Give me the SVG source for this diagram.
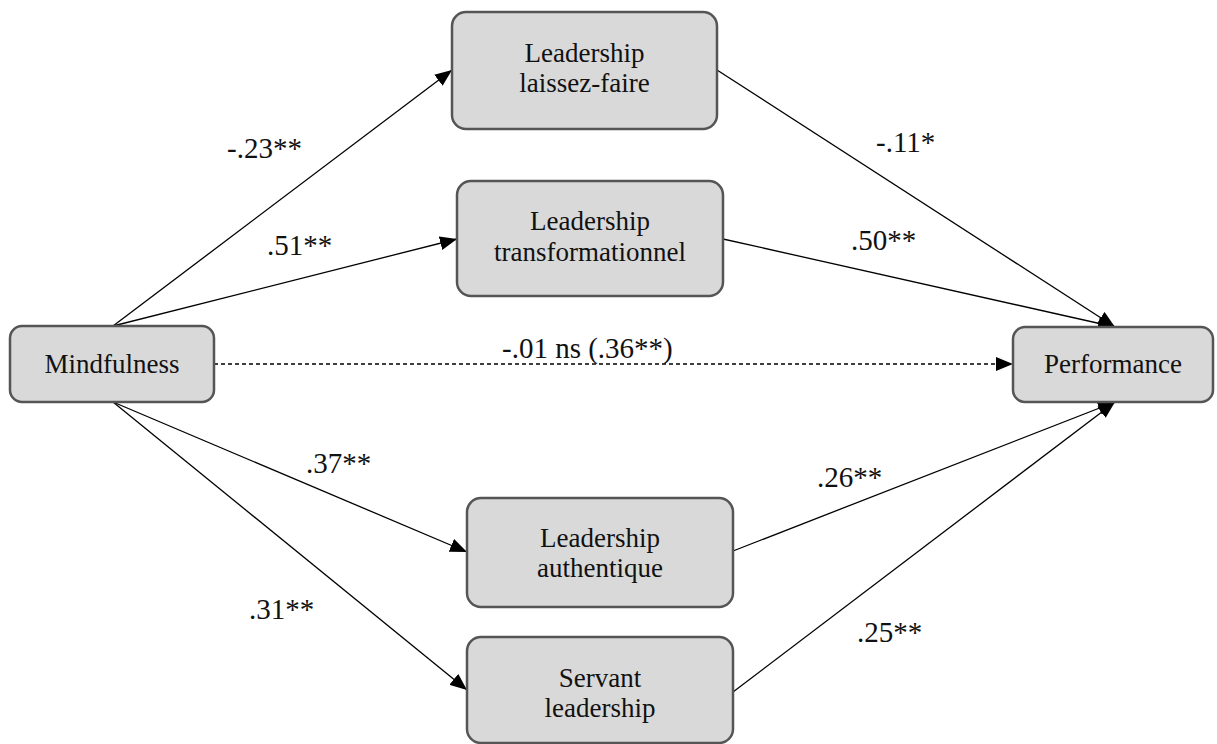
<svg xmlns="http://www.w3.org/2000/svg" width="1217" height="744" viewBox="0 0 1217 744">
<style>
.box{fill:#d9d9d9;stroke:#555;stroke-width:2.5}
.t{font-family:"Liberation Serif","Times New Roman",Times,serif;font-size:27px;fill:#111;text-anchor:middle}
.l{font-family:"Liberation Serif","Times New Roman",Times,serif;font-size:29px;fill:#111}
.c{stroke:#000;stroke-width:1.3;fill:none}
.d{stroke:#000;stroke-width:1.3;fill:none;stroke-dasharray:4 3}
</style>
<defs>
<marker id="ah" markerUnits="userSpaceOnUse" markerWidth="18" markerHeight="14" refX="17" refY="7" orient="auto">
<path d="M0,0 L17,7 L0,14 Z" fill="#000"/>
</marker>
</defs>
<rect width="1217" height="744" fill="#fff"/>
<g id="connectors">
<line class="c" x1="113" y1="326" x2="452" y2="70" marker-end="url(#ah)"/>
<line class="c" x1="113" y1="326" x2="457" y2="239" marker-end="url(#ah)"/>
<line class="c" x1="113" y1="402" x2="467" y2="552" marker-end="url(#ah)"/>
<line class="c" x1="113" y1="402" x2="467" y2="690" marker-end="url(#ah)"/>
<line class="d" x1="214" y1="364" x2="1013" y2="364" marker-end="url(#ah)"/>
<line class="c" x1="717" y1="70" x2="1115" y2="327" marker-end="url(#ah)"/>
<line class="c" x1="723" y1="239" x2="1115" y2="327" marker-end="url(#ah)"/>
<line class="c" x1="733" y1="551" x2="1115" y2="402" marker-end="url(#ah)"/>
<line class="c" x1="733" y1="692" x2="1115" y2="402" marker-end="url(#ah)"/>
<text class="l" x="227" y="158">-.23**</text>
<text class="l" x="267" y="255">.51**</text>
<text class="l" x="876" y="152">-.11*</text>
<text class="l" x="851" y="250">.50**</text>
<text class="l" x="502" y="358">-.01 ns (.36**)</text>
<text class="l" x="306" y="473">.37**</text>
<text class="l" x="249" y="619">.31**</text>
<text class="l" x="817" y="487">.26**</text>
<text class="l" x="857" y="642">.25**</text>
</g>
<g id="mindfulness">
<rect class="box" x="10" y="326" width="204" height="76" rx="12"/>
<text class="t" x="112" y="373">Mindfulness</text>
</g>
<g id="laissez-faire">
<rect class="box" x="452" y="12" width="265" height="117" rx="14"/>
<text class="t" x="584.5" y="62">Leadership</text>
<text class="t" x="584.5" y="92">laissez-faire</text>
</g>
<g id="transformationnel">
<rect class="box" x="457" y="181" width="266" height="115" rx="14"/>
<text class="t" x="590" y="230">Leadership</text>
<text class="t" x="590" y="261">transformationnel</text>
</g>
<g id="performance">
<rect class="box" x="1013" y="327" width="200" height="75" rx="12"/>
<text class="t" x="1113" y="373">Performance</text>
</g>
<g id="authentique">
<rect class="box" x="467" y="498" width="266" height="109" rx="14"/>
<text class="t" x="600" y="547">Leadership</text>
<text class="t" x="600" y="577">authentique</text>
</g>
<g id="servant">
<rect class="box" x="467" y="637" width="266" height="106" rx="14"/>
<text class="t" x="600" y="687">Servant</text>
<text class="t" x="600" y="717">leadership</text>
</g>
</svg>
